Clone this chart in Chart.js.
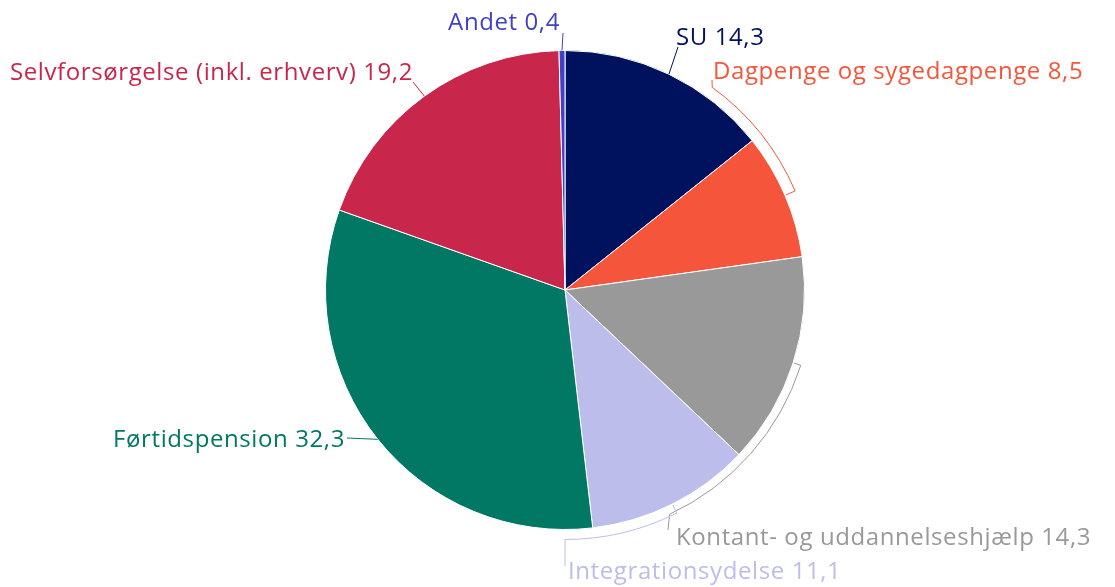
<!DOCTYPE html>
<html lang="da">
<head>
    <meta charset="UTF-8">
    <title>Fordeling</title>
    <script src="https://cdn.jsdelivr.net/npm/chart.js"></script>
    <style>
        body { margin: 0; background: #fff; }
    </style>
</head>
<body>
    <canvas id="pie" width="1115" height="587"></canvas>

    <script>
        // Data
        const labels = ['SU', 'Dagpenge og sygedagpenge', 'Kontant- og uddannelseshjælp', 'Integrationsydelse', 'Førtidspension', 'Selvforsørgelse (inkl. erhverv)', 'Andet'];
        const values = [14.3, 8.5, 14.3, 11.1, 32.3, 19.2, 0.4];
        const colors = ['#00125E', '#F5563B', '#999999', '#BCBDEA', '#007864', '#C8264A', '#3F42C6'];

        // Placering af labels (offset fra centrum, px)
        const labelPlacement = [
            { tx: 111, ty: -252, align: 'left', end: [113, -243] },
            { tx: 148, ty: -218, align: 'left', arc: { gap: 11, to: 36 }, end: [147, -210] },
            { tx: 111, ty: 248, align: 'left', arc: { gap: 8, to: 155 }, end: [103, 240] },
            { tx: 3, ty: 282, align: 'left', arc: { gap: 10, to: 180 }, end: [0, 276] },
            { tx: -220, ty: 150, align: 'right', end: [-218, 148] },
            { tx: -152, ty: -217, align: 'right', end: [-152, -208] },
            { tx: -5, ty: -267, align: 'right', end: [-2, -257] }
        ];

        const fmt = v => v.toFixed(1).replace('.', ',');

        // Tegner labels og forbindelseslinjer
        const pieLabels = {
            id: 'pieLabels',
            afterDraw(chart) {
                const ctx = chart.ctx;
                const meta = chart.getDatasetMeta(0);
                ctx.save();
                ctx.font = '24px "Open Sans", sans-serif';
                ctx.letterSpacing = '0.6px';
                ctx.textBaseline = 'middle';
                ctx.lineWidth = 1;
                meta.data.forEach((arc, i) => {
                    const p = labelPlacement[i];
                    const cx = arc.x, cy = arc.y, r = arc.outerRadius;
                    const mid = (arc.startAngle + arc.endAngle) / 2;
                    const pt = (a, rad) => [cx + Math.cos(a) * rad, cy + Math.sin(a) * rad];

                    ctx.strokeStyle = colors[i];
                    ctx.beginPath();
                    if (p.arc) {
                        const to = p.arc.to * Math.PI / 180 - Math.PI / 2;
                        const a0 = pt(mid, r + 1);
                        const a1 = pt(mid, r + p.arc.gap);
                        ctx.moveTo(a0[0], a0[1]);
                        ctx.lineTo(a1[0], a1[1]);
                        ctx.arc(cx, cy, r + p.arc.gap, mid, to, to < mid);
                    } else {
                        const a0 = pt(mid, r);
                        ctx.moveTo(a0[0], a0[1]);
                    }
                    ctx.lineTo(cx + p.end[0], cy + p.end[1]);
                    ctx.stroke();

                    ctx.fillStyle = colors[i];
                    ctx.textAlign = p.align;
                    ctx.fillText(labels[i] + ' ' + fmt(values[i]), cx + p.tx, cy + p.ty);
                });
                ctx.restore();
            }
        };

        new Chart(document.getElementById('pie').getContext('2d'), {
            type: 'pie',
            data: {
                labels: labels,
                datasets: [{
                    data: values,
                    backgroundColor: colors,
                    borderColor: '#ffffff',
                    borderWidth: 1
                }]
            },
            options: {
                responsive: false,
                animation: false,
                layout: { padding: { top: 50, bottom: 57, left: 325, right: 310 } },
                plugins: {
                    legend: { display: false },
                    tooltip: { enabled: false }
                }
            },
            plugins: [pieLabels]
        });
    </script>
</body>
</html>
